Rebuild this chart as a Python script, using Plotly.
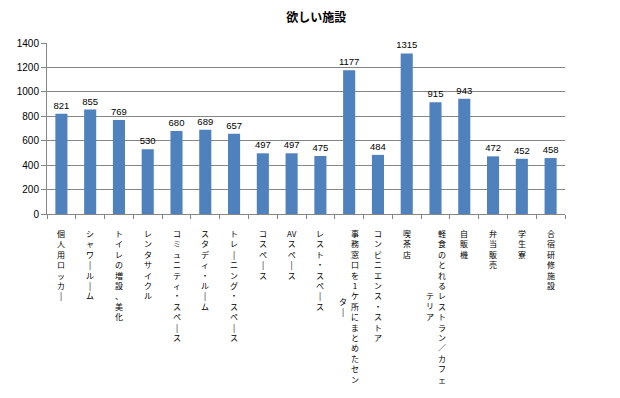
import plotly.graph_objects as go

title = "欲しい施設"
categories = [
    "個人用ロッカー", "シャワールーム", "トイレの増設、美化", "レンタサイクル",
    "コミュニティ・スペース", "スタディ・ルーム", "トレーニング・スペース", "コスペース",
    "AVスペース", "レスト・スペース", "事務窓口を1ケ所にまとめたセンター",
    "コンビニエンス・ストア", "喫茶店", "軽食のとれるレストラン／カフェテリア",
    "自販機", "弁当販売", "学生寮", "合宿研修施設",
]
values = [821, 855, 769, 530, 680, 689, 657, 497, 497, 475, 1177, 484, 1315, 915, 943, 472, 452, 458]
y_ticks = [0, 200, 400, 600, 800, 1000, 1200, 1400]

CJK = "Noto Sans CJK JP"
LATIN = "Liberation Sans"
LABEL_SIZE = 8
LINE = LABEL_SIZE * 1.3

fig = go.Figure()
fig.add_trace(go.Bar(
    x=list(range(len(categories))), y=values,
    marker=dict(color="#4F81BD", line=dict(width=0)),
    text=[str(v) for v in values], textposition="outside",
    constraintext="none",
    textfont=dict(family=LATIN, size=9.5, color="#000000"),
    cliponaxis=False, width=0.42, hoverinfo="skip",
))


def to_cells(label):
    """Split a label into vertical-writing cells; a leading ASCII pair shares one cell."""
    cells = []
    for k, ch in enumerate(label):
        if k == 1 and ord(ch) < 128 and ord(label[0]) < 128:
            cells[-1] += ch
        else:
            cells.append("|" if ch == "ー" else ch)
    return cells


annotations = []
for i, lab in enumerate(categories):
    cells = to_cells(lab)
    cols = [cells[:15], cells[15:]] if len(cells) > 16 else [cells]
    for ci, col in enumerate(cols):
        xs = 0 if len(cols) == 1 else (6 if ci == 0 else -6)
        offset = 0 if ci == 0 else (len(cols[0]) - len(col)) / 2
        annotations.append(dict(
            x=i, y=0, xref="x", yref="paper", text="<br>".join(col), showarrow=False,
            xanchor="center", yanchor="top", align="center",
            xshift=xs, yshift=-12 - offset * LINE,
            font=dict(family=CJK, size=LABEL_SIZE, color="#000000"),
        ))

fig.update_layout(
    width=620, height=398,
    margin=dict(l=47, r=55, t=43, b=184),
    paper_bgcolor="white", plot_bgcolor="white",
    title=dict(text="<b>" + title + "</b>", x=0.52, xref="paper", xanchor="center",
               y=1 - 18 / 398, yanchor="middle",
               font=dict(family=CJK, size=12, color="#000000")),
    showlegend=False,
    hovermode=False,
    annotations=annotations,
    xaxis=dict(
        range=[-0.5, len(categories) - 0.5],
        tickmode="array",
        tickvals=[k - 0.5 for k in range(len(categories) + 1)],
        ticktext=[""] * (len(categories) + 1),
        ticks="outside", ticklen=4, tickcolor="#868686",
        showline=True, linecolor="#868686", linewidth=1,
        showgrid=False, zeroline=False,
    ),
    yaxis=dict(
        range=[0, 1400], tickvals=y_ticks,
        ticks="outside", ticklen=5, tickcolor="#868686",
        showline=True, linecolor="#868686", linewidth=1,
        showgrid=True, gridcolor="#868686", gridwidth=1,
        zeroline=False,
        tickfont=dict(family=LATIN, size=10, color="#000000"),
    ),
)

fig.write_html("out.html", config={"displayModeBar": False},
               post_script="document.body.style.margin='0';")
